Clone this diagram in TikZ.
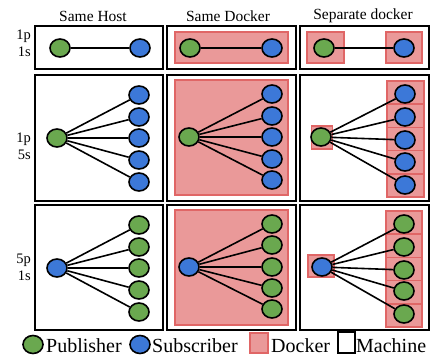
\documentclass[tikz,border=0pt]{standalone}
\usepackage{fontspec}
\setmainfont{Liberation Serif}
\usetikzlibrary{shapes.geometric}
\definecolor{pubgreen}{HTML}{6AA84F}
\definecolor{subblue}{HTML}{3C78D8}
\definecolor{dockfill}{HTML}{EA9999}
\definecolor{dockline}{HTML}{E06666}
\begin{document}
\begin{tikzpicture}[x=1pt,y=-1pt,
  machine/.style={draw=black, line width=2pt, rectangle, inner sep=0pt},
  docker/.style={draw=dockline, fill=dockfill, line width=1.5pt, rectangle, inner sep=0pt},
  pub/.style={ellipse, draw=black, line width=1.6pt, fill=pubgreen, minimum width=20pt, minimum height=18pt, inner sep=0pt},
  sub/.style={ellipse, draw=black, line width=1.6pt, fill=subblue, minimum width=20pt, minimum height=18pt, inner sep=0pt},
  conn/.style={draw=black, line width=1.6pt},
  header/.style={font=\fontsize{15.5}{18}\selectfont, inner sep=0pt},
  rowlab/.style={font=\fontsize{14.5}{17}\selectfont, align=right, anchor=east, inner sep=0pt},
  legtext/.style={font=\fontsize{20}{24}\selectfont, anchor=base west, inner sep=0pt}
]
\useasboundingbox (0,0) rectangle (440,356);

% headers
\node[header] (h1) at (93,16) {Same Host};
\node[header] (h2) at (228,16) {Same Docker};
\node[header] (h3) at (363,16) {Separate docker};

% row labels
\node[rowlab] (r1) at (31,43) {1p\\1s};
\node[rowlab] (r2) at (31,146) {1p\\5s};
\node[rowlab] (r3) at (31,267) {5p\\1s};

% machine boxes
\node[machine, minimum width=128pt, minimum height=43pt] (m11) at (99,47.5) {};
\node[machine, minimum width=129pt, minimum height=43pt] (m12) at (231.5,47.5) {};
\node[machine, minimum width=129pt, minimum height=43pt] (m13) at (364.5,47.5) {};
\node[machine, minimum width=128pt, minimum height=126pt] (m21) at (99,138) {};
\node[machine, minimum width=129pt, minimum height=126pt] (m22) at (231.5,138) {};
\node[machine, minimum width=129pt, minimum height=126pt] (m23) at (364.5,138) {};
\node[machine, minimum width=128pt, minimum height=125pt] (m31) at (99,267.5) {};
\node[machine, minimum width=129pt, minimum height=125pt] (m32) at (231.5,267.5) {};
\node[machine, minimum width=129pt, minimum height=125pt] (m33) at (364.5,267.5) {};

% docker boxes
\node[docker, minimum width=113pt, minimum height=31pt] (d12) at (231.5,47.5) {};
\node[docker, minimum width=113pt, minimum height=115pt] (d22) at (231.5,137.5) {};
\node[docker, minimum width=113pt, minimum height=115pt] (d32) at (231.5,267.5) {};
\node[docker, minimum width=37pt, minimum height=31pt] (d13a) at (325.5,47.5) {};
\node[docker, minimum width=36pt, minimum height=31pt] (d13b) at (404,47.5) {};
\node[docker, minimum width=21pt, minimum height=23pt] (d23p) at (322,137.5) {};
\foreach \i/\y in {1/92.6,2/115.8,3/139,4/162.2,5/185.4}
  \node[docker, minimum width=37pt, minimum height=23.2pt] (d23s\i) at (405.5,\y) {};
\node[docker, minimum width=26pt, minimum height=22pt] (d33p) at (321,266) {};
\foreach \i/\y in {1/222.6,2/245.8,3/269,4/292.2,5/315.4}
  \node[docker, minimum width=36pt, minimum height=23.2pt] (d33s\i) at (404,\y) {};

% row 1
\node[pub] (p11) at (60,48) {};
\node[sub] (s11) at (140,48) {};
\draw[conn] (p11) -- (s11);
\node[pub] (p12) at (190,48) {};
\node[sub] (s12) at (272,48) {};
\draw[conn] (p12) -- (s12);
\node[pub] (p13) at (324,48) {};
\node[sub] (s13) at (404,48) {};
\draw[conn] (p13) -- (s13);

% row 2
\node[pub] (p21) at (57,138) {};
\foreach \i/\y in {1/95,2/117,3/138,4/160,5/182}{
  \node[sub] (s21\i) at (139,\y) {};
  \draw[conn] (p21) -- (s21\i);
}
\node[pub] (p22) at (189,137) {};
\foreach \i/\y in {1/94,2/116,3/137,4/159,5/180}{
  \node[sub] (s22\i) at (272,\y) {};
  \draw[conn] (p22) -- (s22\i);
}
\node[pub] (p23) at (321,137) {};
\foreach \i/\y in {1/94,2/117,3/140,4/162,5/185}{
  \node[sub] (s23\i) at (405,\y) {};
  \draw[conn] (p23) -- (s23\i);
}

% row 3
\node[sub] (p31) at (57,268) {};
\foreach \i/\y in {1/225,2/247,3/268,4/290,5/312}{
  \node[pub] (s31\i) at (139,\y) {};
  \draw[conn] (p31) -- (s31\i);
}
\node[sub] (p32) at (189,267) {};
\foreach \i/\y in {1/224,2/245,3/267,4/288,5/309}{
  \node[pub] (s32\i) at (272,\y) {};
  \draw[conn] (p32) -- (s32\i);
}
\node[sub] (p33) at (322,267) {};
\foreach \i/\y in {1/224,2/247,3/270,4/291,5/314}{
  \node[pub] (s33\i) at (404,\y) {};
  \draw[conn] (p33) -- (s33\i);
}

% legend
\node[pub] (lp) at (33,344.5) {};
\node[legtext] (lpt) at (46,352) {Publisher};
\node[sub] (ls) at (140,344.5) {};
\node[legtext] (lst) at (152,352) {Subscriber};
\node[docker, minimum width=18pt, minimum height=20pt] (ld) at (259,343) {};
\node[legtext] (ldt) at (271,352) {Docker};
\node[machine, line width=1.6pt, minimum width=17pt, minimum height=21pt] (lm) at (346.5,342.5) {};
\node[legtext] (lmt) at (356,352) {Machine};
\end{tikzpicture}
\end{document}
